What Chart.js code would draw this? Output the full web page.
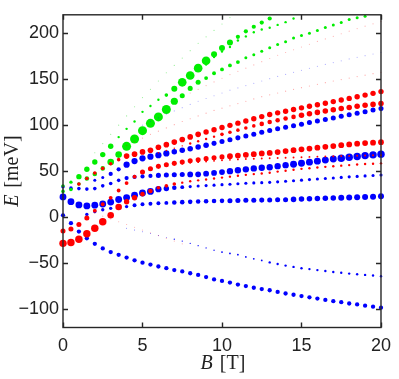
<!DOCTYPE html>
<html>
<head>
<meta charset="utf-8">
<script src="https://cdn.jsdelivr.net/npm/chart.js@4.4.1/dist/chart.umd.min.js"></script>
<style>
  html, body { margin: 0; padding: 0; background: #fff; }
  #wrap { width: 399px; height: 379px; }
</style>
</head>
<body>
<div id="wrap"><canvas id="c" width="399" height="379"></canvas></div>
<script>
(function () {
    'use strict';

    // ── data ─────────────────────────────────────────────────
    var B = [0, 0.5, 1, 1.5, 2, 2.5, 3, 3.5, 4, 4.5, 5, 5.5, 6, 6.5, 7, 7.5, 8, 8.5, 9, 9.5,
             10, 10.5, 11, 11.5, 12, 12.5, 13, 13.5, 14, 14.5, 15, 15.5, 16, 16.5, 17, 17.5,
             18, 18.5, 19, 19.5, 20];

    var xTicks = [0, 5, 10, 15, 20];
    var yTicks = [-100, -50, 0, 50, 100, 150, 200];

    // blue levels
    var blueLow = [2, -6.6, -15.7, -23, -29, -34, -38, -41, -44, -47, -49.5, -51.6, -53.7, -55.5, -57.6, -59,
                   -61, -62.8, -65.2, -67.7, -69.4, -71.2, -73.3, -75, -76.8, -78.2, -79.5, -81.3, -83,
                   -84.4, -85.8, -87.2, -88.6, -90, -91.4, -92.5, -93.9, -94.9, -96.3, -97.4, -98.4];
    var blueLowW = runs([[41, 0.36]]);

    var blueFaint = place(8, [-12, -14, -16, -18, -20, -22, -24, -26, -28.5, -31, -33.5, -36, -38, -39.5,
                              -40.8, -43.3, -45.3, -47.1, -49.2, -50.9, -52.7, -54.1, -55.5, -56.5, -57.6,
                              -58.6, -59.7, -60.4, -61.4, -62.1, -62.8, -63.5, -64.2]);
    var blueFaintW = place(8, runs([[6, 0.07], [6, 0.11], [6, 0.15], [15, 0.2]]));

    var blueFlat = place(3, [3, 6, 8, 9.6, 10.5, 11.5, 13, 14, 14.5, 15, 15.5, 16, 16.3, 16.6, 16.9, 17.2,
                             17.5, 17.7, 17.9, 18.1, 18.3, 18.4, 18.5, 18.6, 18.8, 19, 19.3, 19.6, 19.9,
                             20.2, 20.5, 20.8, 21.1, 21.4, 21.7, 22, 22.3, 22.6]);
    var blueFlatW = place(3, runs([[6, 0.28], [5, 0.33], [7, 0.38], [8, 0.42], [6, 0.46], [6, 0.5]]));

    var blueMid = [22, 16.8, 13.3, 12.2, 13, 14.3, 16.4, 19.2, 21.3, 23.8, 26.2, 28, 30.4, 31.2, 32, 32.6,
                   33.2, 33.8, 34.3, 34.8, 35.3, 35.8, 36.3, 36.8, 37.2, 37.5, 37.8, 38.4, 39, 39.6, 40.2,
                   40.8, 41.4, 42, 42.6, 43.2, 43.8, 44.3, 44.8, 45.3, 45.8];
    var blueMidW = runs([[12, 0.57], [1, 0.52], [1, 0.45], [1, 0.38], [1, 0.32], [25, 0.26]]);

    var blueBig = [33, 31.5, 31, 30.5, 31, 34, 36.5, 40, 42.5, 43.7, 44.3, 44.8, 45.4, 45.8, 46.1, 46.3,
                   46.4, 46.6, 47.3, 48.1, 49, 50, 51, 52, 53, 53.7, 54.3, 55.4, 56.5, 57.6, 58.7, 59.8,
                   60.9, 62, 63.1, 64.1, 65.1, 66, 66.9, 67.7, 68.5];
    var blueBigW = runs([[8, 0.3], [4, 0.35], [4, 0.42], [5, 0.48], [8, 0.53], [6, 0.58], [6, 0.62]]);

    var blueUp = place(4, [40, 43, 47, 52, 57, 61, 64, 65.7, 67.4, 69.2, 71, 72.7, 74.4, 76.2, 78.2, 80.2,
                           82.2, 84.2, 86.2, 88.2, 90.2, 92.3, 94.3, 96, 97.7, 99.4, 101.1, 102.8, 104.5,
                           106.2, 107.9, 109.6, 111.3, 113, 114.7, 116.4, 118]);
    var blueUpW = place(4, runs([[2, 0.25], [2, 0.35], [6, 0.52], [5, 0.46], [22, 0.42]]));

    // red levels
    var redTop = place(2, [36, 42, 48, 53, 58, 62.5, 66.4, 68.5, 70.9, 72.7, 76, 78.8, 81.6, 84.4, 87.2,
                           90, 92.5, 95, 97.4, 99.8, 102.2, 104.6, 107, 109.3, 111.6, 113.4, 115.2, 117,
                           118.8, 120.5, 122.2, 123.9, 125.6, 127.3, 129.1, 130.9, 132.7, 134.6, 136.5]);
    var redTopW = place(2, runs([[6, 0.3], [10, 0.47], [23, 0.45]]));

    var redSecond = place(12, [70, 72.5, 75, 77.5, 80, 82.5, 85, 87.5, 90, 92.3, 94.6, 96.9, 99.2, 101.4,
                               103.5, 105.4, 107.2, 109, 110.7, 112.3, 113.9, 115.4, 116.8, 118.1, 119.3,
                               120.5, 121.6, 122.6, 123.5]);
    var redSecondW = place(12, runs([[4, 0.12], [4, 0.2], [5, 0.3], [5, 0.38], [11, 0.46]]));

    var redMid = [-15, -13, -8, -1, 7, 14, 21, 29, 37, 44, 49, 52.5, 55.2, 57, 58.5, 60, 61.3, 62.5, 63.6,
                  64.6, 65.5, 66.3, 67, 67.7, 68.5, 69.2, 69.8, 70.8, 71.8, 72.8, 73.7, 74.6, 75.5, 76.4,
                  77.3, 78.2, 79, 79.8, 80.5, 81, 81.5];
    var redMidW = runs([[4, 0.42], [6, 0.32], [11, 0.42], [20, 0.48]]);

    var redLow = [-28.5, -27.5, -24, -18, -12, -5, 2, 11, 16.8, 21, 25, 28.5, 32, 34, 36, 37.5, 39, 40, 41,
                  42, 43, 44, 45, 46, 46.8, 47.5, 48.2, 49.5, 50.5, 51.5, 52.5, 53.2, 54, 54.7, 55.3, 56,
                  56.6, 57.2, 57.7, 58, 58.5];
    var redLowW = runs([[6, 0.62], [2, 0.55], [2, 0.45], [2, 0.38], [3, 0.3], [26, 0.2]]);

    var redSmall = place(14, [57, 58, 59, 59.8, 60.5, 61.2, 61.8, 62.3, 62.8, 63.2, 63.5, 63.8, 64, 64.3,
                              64.6, 64.9, 65.2, 65.5, 65.8, 66, 66.2, 66.4, 66.6, 66.8, 67, 67.2, 67.4]);
    var redSmallW = place(14, runs([[27, 0.16]]));

    // green levels
    var greenLow = [28, 30, 36, 42, 47, 53, 60, 68, 77, 85, 94, 102, 109, 117, 126, 132, 140, 146.6, 151.2,
                    156.4, 160.6, 165, 168.6, 173.2, 176.6, 180.5, 184.3, 187.8, 190.6, 194.8, 197.6, 200,
                    202.8, 206.3, 208.8, 211.5, 215, 216.8, 218.5, null, null];
    var greenLowW = runs([[3, 0.3], [3, 0.38], [2, 0.55], [6, 0.75], [1, 0.6], [3, 0.42], [5, 0.32], [18, 0.25]]);

    var greenUp = place(0, [34, 38, 44, 52, 60, 68, 77, 87, 96, 104, 114.5, 120.8, 127.7, 132.7, 139.7,
                            146.6, 154, 162, 170, 177, 184, 190, 196, 202, 207, 211.5, 216]);
    var greenUpW = place(0, runs([[2, 0.28], [5, 0.45], [6, 0.2], [1, 0.3], [1, 0.5], [4, 0.72], [3, 0.5], [5, 0.35]]));

    var greenSide = place(18, [166, 174, 180, 185, 192, 196.5, 201, 204, 206, 209, 212, 216]);
    var greenSideW = place(18, runs([[12, 0.2]]));

    // faint (weak weight) levels
    var faintRedA = place(8, [78, 82, 86, 90, 93.5, 97, 100.5, 104, 107, 110, 113, 116, 118.5, 121, 123.5,
                              126, 128.5, 131, 133, 135, 137, 139, 140.8, 142.6, 144.4, 146.2, 148, 149.6,
                              151.2, 152.8, 154.4, 156, 157.5]);
    var faintBlueB = place(10, [100, 104, 108, 112, 115.5, 119, 122.5, 126, 129, 132, 135, 138, 140.5, 143,
                                145.5, 148, 150.5, 153, 155.2, 157.4, 159.6, 161.8, 164, 166, 168, 170, 172,
                                173.8, 175.6, 177.4, 179.2]);
    var faintRedC = place(16, [135, 139, 143, 147, 151, 155, 158.5, 162, 165.5, 169, 172.5, 176, 179, 182,
                               185, 188, 191, 193.8, 196.6, 199.4, 202.2, 205, 207.6, 210.2, 212.8]);
    var faintGreenD = place(4, [70, 80, 90, 100, 110, 120, 130, 139, 148, 157, 165, 173, 181, 189, 196,
                                203, 210, 217]);
    var faintRedE = place(4, [4, 1, -2, -5, -8, -11, -14, -17, -20, -23, -26, -29]);
    var faintW = runs([[41, 0.1]]);

    // ── helpers ──────────────────────────────────────────────
    function place(start, vals) {
        var out = [];
        for (var i = 0; i < 41; i++) out.push(null);
        vals.forEach(function (v, k) { out[start + k] = v; });
        return out;
    }

    function runs(list) {
        var out = [];
        list.forEach(function (r) { for (var k = 0; k < r[0]; k++) out.push(r[1]); });
        return out;
    }

    var R_SCALE = 6;
    var BLUE = '#0000ff', RED = '#ff0000', GREEN = '#00ee00';
    var AXIS = '#262626';
    var TICK_FONT = '"Liberation Sans", Arial, sans-serif';
    var TITLE_FONT = '"Liberation Serif", "Times New Roman", serif';

    function level(vals, w, color) {
        var pts = [], rad = [];
        for (var i = 0; i < B.length; i++) {
            if (vals[i] === null || vals[i] === undefined) continue;
            pts.push({ x: B[i], y: vals[i] });
            rad.push((w[i] || 0.1) * R_SCALE);
        }
        return {
            data: pts,
            pointRadius: rad,
            pointHoverRadius: rad,
            pointBackgroundColor: color,
            pointBorderColor: color,
            pointBorderWidth: 0,
            showLine: false,
            clip: false
        };
    }

    function fmt(v) {
        return v < 0 ? '\u2212' + Math.abs(v) : String(v);
    }

    // ── frame, inward ticks, axis titles ─────────────────────
    var framePlugin = {
        id: 'frame',
        afterDraw: function (chart) {
            var ctx = chart.ctx, a = chart.chartArea;
            var xs = chart.scales.x, ys = chart.scales.y;
            ctx.save();
            ctx.strokeStyle = AXIS;
            ctx.lineWidth = 1.4;
            ctx.strokeRect(a.left, a.top, a.right - a.left, a.bottom - a.top);

            ctx.beginPath();
            xTicks.forEach(function (v) {
                var px = Math.round(xs.getPixelForValue(v)) + 0.5;
                ctx.moveTo(px, a.bottom); ctx.lineTo(px, a.bottom - 5);
                ctx.moveTo(px, a.top); ctx.lineTo(px, a.top + 5);
            });
            yTicks.forEach(function (v) {
                var py = Math.round(ys.getPixelForValue(v)) + 0.5;
                ctx.moveTo(a.left, py); ctx.lineTo(a.left + 5, py);
                ctx.moveTo(a.right, py); ctx.lineTo(a.right - 5, py);
            });
            ctx.stroke();

            ctx.fillStyle = '#222';
            ctx.textBaseline = 'middle';

            // x title: B [T]
            var fi = 'italic 20px ' + TITLE_FONT, fn = '20px ' + TITLE_FONT;
            ctx.font = fi; var wB = ctx.measureText('B').width;
            ctx.font = fn; var wT = ctx.measureText('[T]').width;
            var gap = 7;
            var cx = (a.left + a.right) / 2 + 1;
            var x0 = cx - (wB + gap + wT) / 2;
            ctx.textAlign = 'left';
            ctx.font = fi; ctx.fillText('B', x0, 364);
            ctx.font = fn; ctx.fillText('[T]', x0 + wB + gap, 364);

            // y title: E [meV]
            ctx.translate(13, (a.top + a.bottom) / 2);
            ctx.rotate(-Math.PI / 2);
            ctx.font = fi; var wE = ctx.measureText('E').width;
            ctx.font = fn; var wM = ctx.measureText('[meV]').width;
            var y0 = -(wE + gap + wM) / 2;
            ctx.font = fi; ctx.fillText('E', y0, 0);
            ctx.font = fn; ctx.fillText('[meV]', y0 + wE + gap, 0);
            ctx.restore();
        }
    };

    // ── chart ────────────────────────────────────────────────
    var datasets = [
        level(faintRedA, faintW, 'rgba(255,0,0,0.35)'),
        level(faintBlueB, faintW, 'rgba(0,0,255,0.3)'),
        level(faintRedC, faintW, 'rgba(255,0,0,0.3)'),
        level(faintGreenD, faintW, 'rgba(0,220,0,0.4)'),
        level(faintRedE, faintW, 'rgba(255,0,0,0.3)'),
        level(redTop, redTopW, RED),
        level(redSecond, redSecondW, RED),
        level(redMid, redMidW, RED),
        level(redSmall, redSmallW, RED),
        level(redLow, redLowW, RED),
        level(greenSide, greenSideW, GREEN),
        level(greenUp, greenUpW, GREEN),
        level(greenLow, greenLowW, GREEN),
        level(blueFaint, blueFaintW, BLUE),
        level(blueLow, blueLowW, BLUE),
        level(blueFlat, blueFlatW, BLUE),
        level(blueMid, blueMidW, BLUE),
        level(blueUp, blueUpW, BLUE),
        level(blueBig, blueBigW, BLUE)
    ];

    new Chart(document.getElementById('c').getContext('2d'), {
        type: 'scatter',
        data: { datasets: datasets },
        options: {
            responsive: false,
            animation: false,
            devicePixelRatio: 1,
            events: [],
            layout: { padding: { left: 0, right: 11, top: 2, bottom: 0 } },
            plugins: { legend: { display: false }, tooltip: { enabled: false } },
            scales: {
                x: {
                    type: 'linear', min: 0, max: 20,
                    afterFit: function (s) { s.height = 51.5; },
                    afterBuildTicks: function (s) { s.ticks = xTicks.map(function (v) { return { value: v }; }); },
                    grid: { display: false, drawTicks: false },
                    border: { display: false },
                    ticks: {
                        font: { family: TICK_FONT, size: 18 }, color: '#222', padding: 8,
                        maxRotation: 0, autoSkip: false, callback: fmt
                    }
                },
                y: {
                    type: 'linear', min: -120, max: 220,
                    afterFit: function (s) { s.width = 63; },
                    afterBuildTicks: function (s) { s.ticks = yTicks.map(function (v) { return { value: v }; }); },
                    grid: { display: false, drawTicks: false },
                    border: { display: false },
                    ticks: {
                        font: { family: TICK_FONT, size: 18 }, color: '#222', padding: 4,
                        autoSkip: false, callback: fmt
                    }
                }
            }
        },
        plugins: [framePlugin]
    });
})();
</script>
</body>
</html>
